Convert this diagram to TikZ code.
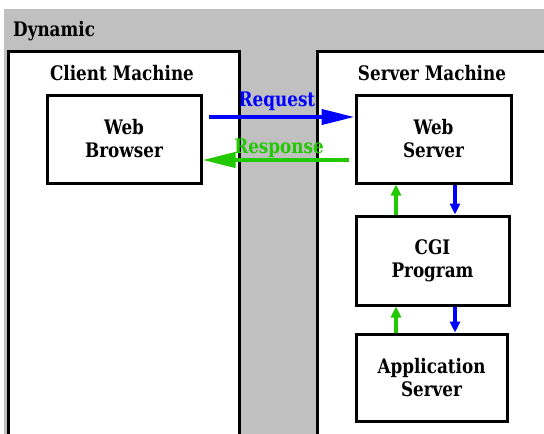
\documentclass[tikz,border=0pt]{standalone}
\usepackage{fontspec}
\setmainfont{DejaVu Serif}[FakeStretch=0.84]
\usetikzlibrary{arrows.meta}
\definecolor{bggray}{RGB}{192,192,192}
\definecolor{reqblue}{RGB}{0,0,255}
\definecolor{resgreen}{RGB}{34,200,0}
\tikzset{
  box/.style={draw=black, line width=3pt, fill=white, align=center, inner sep=0pt,
    font=\bfseries\fontsize{20}{23}\selectfont},
  lbl/.style={font=\bfseries\fontsize{20}{23}\selectfont, inner sep=0pt},
  bigreq/.style={draw=reqblue, line width=4pt, -{Triangle[length=33pt,width=15pt]}},
  bigres/.style={draw=resgreen, line width=4pt, -{Triangle[length=33pt,width=15pt]}},
  smallreq/.style={draw=reqblue, line width=3.5pt, -{Triangle[length=11pt,width=10pt]}},
  smallres/.style={draw=resgreen, line width=3.5pt, -{Triangle[length=11pt,width=10pt]}}
}
\begin{document}
\begin{tikzpicture}[x=1pt,y=-1pt]
\useasboundingbox (0,0) rectangle (544,434);
% background
\fill[white] (0,0) rectangle (544,434);
\fill[bggray] (4,9) rectangle (544,434);
% outer machine boxes
\fill[white] (8,51) rectangle (239,440);
\fill[white] (317,51) rectangle (550,440);
\draw[black, line width=3pt] (8,440) -- (8,51) -- (239,51) -- (239,440);
\draw[black, line width=3pt] (550,51) -- (317,51) -- (317,440);
% labels
\node[lbl, anchor=base west] (dyn) at (13,36) {Dynamic};
\node[lbl, anchor=base] (cm) at (122,80) {Client Machine};
\node[lbl, anchor=base] (sm) at (432,80) {Server Machine};
% inner boxes
\node[box, minimum width=154pt, minimum height=88pt] (wb) at (124,139) {Web\\Browser};
\node[box, minimum width=155pt, minimum height=88pt] (ws) at (433.5,139) {Web\\Server};
\node[box, minimum width=153pt, minimum height=89pt] (cgi) at (432.5,260.5) {CGI\\Program};
\node[box, minimum width=151pt, minimum height=87pt] (app) at (431.5,377.5) {Application\\Server};
% request / response
\coordinate (reqs) at (209,117);
\coordinate (ress) at (349,160);
\draw[bigreq] (reqs) -- (ws.west |- reqs);
\draw[bigres] (ress) -- (wb.east |- ress);
\node[lbl, text=reqblue, anchor=base] (reql) at (277,106) {Request};
\node[lbl, text=resgreen, anchor=base] (resl) at (279,153) {Response};
% vertical arrows
\draw[smallres] (cgi.north -| 396,0) -- (ws.south -| 396,0);
\draw[smallreq] (ws.south -| 455,0) -- (cgi.north -| 455,0);
\draw[smallres] (app.north -| 396,0) -- (cgi.south -| 396,0);
\draw[smallreq] (cgi.south -| 455,0) -- (app.north -| 455,0);
\end{tikzpicture}
\end{document}
